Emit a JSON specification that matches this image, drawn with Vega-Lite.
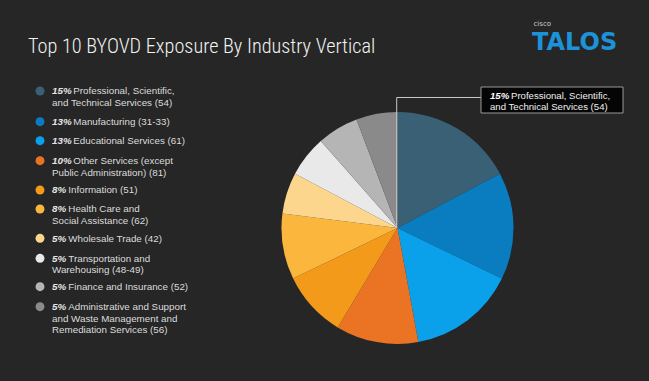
{
  "$schema": "https://vega.github.io/schema/vega-lite/v6.json",
  "autosize": {"type": "none"},
  "width": 503,
  "height": 306,
  "padding": {"left": 146, "top": 75, "right": 0, "bottom": 0},
  "background": "#262626",
  "config": {"view": {"stroke": null}},
  "data": {
    "values": [
      {"rank": 1, "pct": 15, "pctLabel": "15%", "line1": "Professional, Scientific,", "rest": "and Technical Services (54)"},
      {"rank": 2, "pct": 13, "pctLabel": "13%", "line1": "Manufacturing (31-33)", "rest": ""},
      {"rank": 3, "pct": 13, "pctLabel": "13%", "line1": "Educational Services (61)", "rest": ""},
      {"rank": 4, "pct": 10, "pctLabel": "10%", "line1": "Other Services (except", "rest": "Public Administration) (81)"},
      {"rank": 5, "pct": 8, "pctLabel": "8%", "line1": "Information (51)", "rest": ""},
      {"rank": 6, "pct": 8, "pctLabel": "8%", "line1": "Health Care and", "rest": "Social Assistance (62)"},
      {"rank": 7, "pct": 5, "pctLabel": "5%", "line1": "Wholesale Trade (42)", "rest": ""},
      {"rank": 8, "pct": 5, "pctLabel": "5%", "line1": "Transportation and", "rest": "Warehousing (48-49)"},
      {"rank": 9, "pct": 5, "pctLabel": "5%", "line1": "Finance and Insurance (52)", "rest": ""},
      {"rank": 10, "pct": 5, "pctLabel": "5%", "line1": "Administrative and Support", "rest": "and Waste Management and\nRemediation Services (56)"}
    ]
  },
  "layer": [
    {
      "mark": {"type": "arc", "radius": 116, "stroke": null},
      "encoding": {
        "theta": {"field": "pct", "type": "quantitative", "stack": true},
        "order": {"field": "rank", "type": "quantitative", "sort": "ascending"},
        "color": {
          "field": "rank", "type": "nominal", "legend": null,
          "scale": {
            "domain": [1, 2, 3, 4, 5, 6, 7, 8, 9, 10],
            "range": ["#3a6076", "#0a7cc0", "#0aa0ea", "#ea7424", "#f39a1b", "#fbb63e", "#fdd68e", "#e9e9e9", "#b5b5b5", "#8a8a8a"]
          }
        }
      }
    },
    {
      "mark": {"type": "point", "shape": "circle", "filled": true, "size": 80, "opacity": 1},
      "encoding": {
        "x": {"value": -106},
        "y": {
          "field": "rank", "type": "quantitative", "axis": null,
          "scale": {"domain": [1, 2, 3, 4, 5, 6, 7, 8, 9, 10], "range": [16, 46.7, 65.7, 85.7, 115, 134, 163.3, 183.3, 211.7, 231.7], "nice": false, "zero": false}
        },
        "color": {"field": "rank", "type": "nominal", "legend": null}
      }
    },
    {
      "mark": {"type": "text", "align": "left", "baseline": "alphabetic", "dy": 3.4, "font": "Liberation Sans", "fontSize": 9.8, "fontWeight": "bold", "fontStyle": "italic", "color": "#e6e6e6"},
      "encoding": {
        "x": {"value": -94},
        "y": {"field": "rank", "type": "quantitative"},
        "text": {"field": "pctLabel", "type": "nominal"}
      }
    },
    {
      "transform": [{"filter": "datum.pct >= 10"}],
      "mark": {"type": "text", "align": "left", "baseline": "alphabetic", "dy": 3.4, "font": "Liberation Sans", "fontSize": 9.8, "color": "#dcdcdc"},
      "encoding": {
        "x": {"value": -72.7},
        "y": {"field": "rank", "type": "quantitative"},
        "text": {"field": "line1", "type": "nominal"}
      }
    },
    {
      "transform": [{"filter": "datum.pct < 10"}],
      "mark": {"type": "text", "align": "left", "baseline": "alphabetic", "dy": 3.4, "font": "Liberation Sans", "fontSize": 9.8, "color": "#dcdcdc"},
      "encoding": {
        "x": {"value": -77.7},
        "y": {"field": "rank", "type": "quantitative"},
        "text": {"field": "line1", "type": "nominal"}
      }
    },
    {
      "transform": [{"filter": "datum.rest != ''"}],
      "mark": {"type": "text", "align": "left", "baseline": "alphabetic", "dy": 15.1, "lineBreak": "\n", "lineHeight": 11.7, "font": "Liberation Sans", "fontSize": 9.8, "color": "#dcdcdc"},
      "encoding": {
        "x": {"value": -94},
        "y": {"field": "rank", "type": "quantitative"},
        "text": {"field": "rest", "type": "nominal"}
      }
    },
    {
      "transform": [{"filter": "datum.rank == 1"}],
      "mark": {"type": "rule", "color": "#c8c8c8", "strokeWidth": 1},
      "encoding": {"x": {"value": 250.7}, "y": {"value": 153}, "y2": {"value": 22.5}}
    },
    {
      "transform": [{"filter": "datum.rank == 1"}],
      "mark": {"type": "rule", "color": "#c8c8c8", "strokeWidth": 1},
      "encoding": {"x": {"value": 250.7}, "x2": {"value": 335}, "y": {"value": 22.5}}
    },
    {
      "transform": [{"filter": "datum.rank == 1"}],
      "mark": {"type": "rect", "fill": "#050505", "stroke": "#9a9a9a", "strokeWidth": 1},
      "encoding": {"x": {"value": 335}, "x2": {"value": 477}, "y": {"value": 12}, "y2": {"value": 38}}
    },
    {
      "transform": [{"filter": "datum.rank == 1"}],
      "mark": {"type": "text", "align": "left", "baseline": "alphabetic", "font": "Liberation Sans", "fontSize": 9.6, "fontWeight": "bold", "fontStyle": "italic", "color": "#ffffff"},
      "encoding": {"x": {"value": 344}, "y": {"value": 23.5}, "text": {"field": "pctLabel", "type": "nominal"}}
    },
    {
      "transform": [{"filter": "datum.rank == 1"}],
      "mark": {"type": "text", "align": "left", "baseline": "alphabetic", "font": "Liberation Sans", "fontSize": 9.6, "color": "#f0f0f0"},
      "encoding": {"x": {"value": 365}, "y": {"value": 23.5}, "text": {"field": "line1", "type": "nominal"}}
    },
    {
      "transform": [{"filter": "datum.rank == 1"}],
      "mark": {"type": "text", "align": "left", "baseline": "alphabetic", "font": "Liberation Sans", "fontSize": 9.6, "color": "#f0f0f0"},
      "encoding": {"x": {"value": 344}, "y": {"value": 34.5}, "text": {"field": "rest", "type": "nominal"}}
    },
    {
      "data": {"values": [{"heading": "Top 10 BYOVD Exposure By Industry Vertical", "brand": "cisco", "product": "TALOS"}]},
      "layer": [
        {
          "mark": {"type": "text", "align": "left", "baseline": "alphabetic", "font": "Roboto Condensed", "fontSize": 20.3, "fontWeight": 300, "color": "#f2f2f2"},
          "encoding": {"x": {"value": -118}, "y": {"value": -22}, "text": {"field": "heading", "type": "nominal"}}
        },
        {
          "mark": {"type": "text", "align": "left", "baseline": "alphabetic", "font": "DejaVu Sans", "fontSize": 7, "color": "#d0d0d0"},
          "encoding": {"x": {"value": 387.5}, "y": {"value": -49}, "text": {"field": "brand", "type": "nominal"}}
        },
        {
          "mark": {"type": "text", "align": "left", "baseline": "alphabetic", "font": "DejaVu Sans", "fontSize": 24, "fontWeight": "bold", "color": "#1c93d8"},
          "encoding": {"x": {"value": 386}, "y": {"value": -25}, "text": {"field": "product", "type": "nominal"}}
        }
      ]
    }
  ]
}
